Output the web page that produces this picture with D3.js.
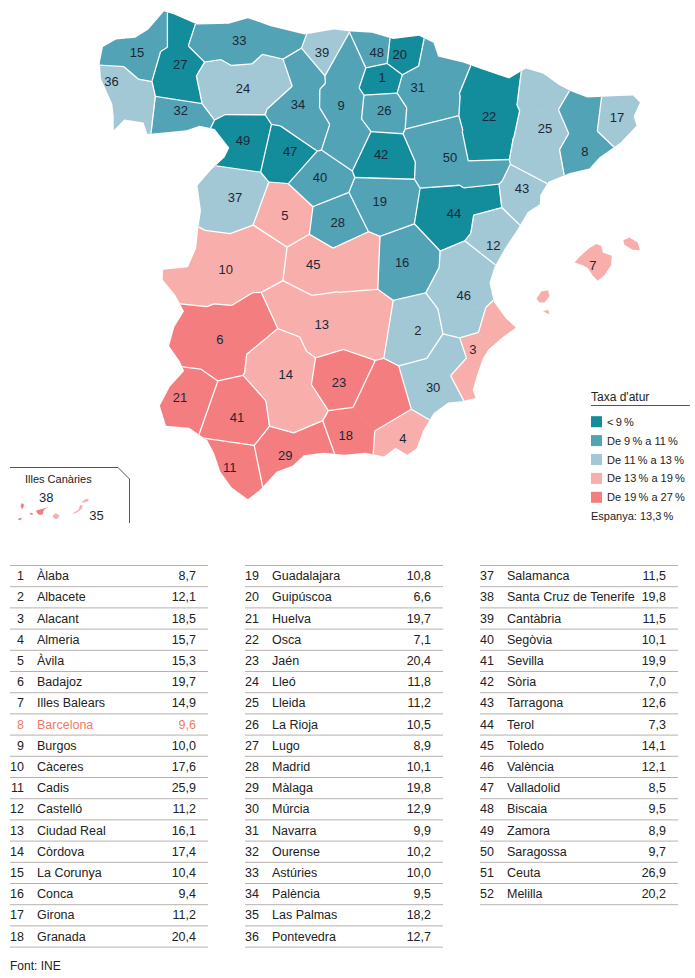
<!DOCTYPE html>
<html>
<head>
<meta charset="utf-8">
<script src="https://cdn.jsdelivr.net/npm/d3@7"></script>
<style>
  body { margin: 0; background: #fff; }
  svg text { font-family: "Liberation Sans", Arial, sans-serif; }
</style>
</head>
<body>
<svg id="chart" width="695" height="978"></svg>
<script>
// Table data, index = province number - 1
const provNames = ["Àlaba","Albacete","Alacant","Almeria","Àvila","Badajoz","Illes Balears","Barcelona","Burgos","Càceres","Cadis","Castelló","Ciudad Real","Còrdova","La Corunya","Conca","Girona","Granada","Guadalajara","Guipúscoa","Huelva","Osca","Jaén","Lleó","Lleida","La Rioja","Lugo","Madrid","Màlaga","Múrcia","Navarra","Ourense","Astúries","Palència","Las Palmas","Pontevedra","Salamanca","Santa Cruz de Tenerife","Cantàbria","Segòvia","Sevilla","Sòria","Tarragona","Terol","Toledo","València","Valladolid","Biscaia","Zamora","Saragossa","Ceuta","Melilla"];
const provRates = [8.7,12.1,18.5,15.7,15.3,19.7,14.9,9.6,10.0,17.6,25.9,11.2,16.1,17.4,10.4,9.4,11.2,20.4,10.8,6.6,19.7,7.1,20.4,11.8,11.2,10.5,8.9,10.1,19.8,12.9,9.9,10.2,10.0,9.5,18.2,12.7,11.5,19.8,11.5,10.1,19.9,7.0,12.6,7.3,14.1,12.1,8.5,9.5,8.9,9.7,26.9,20.2];
const highlightId = 8;
const spainRate = 13.3;

// Legend classes
const classBreaks = [9, 11, 13, 19];
const classColors = ["#138c9c", "#51a3b5", "#a3c8d5", "#f8afac", "#f47d80"];
const legendLabels = ["<\u20099\u2009%", "De 9\u2009% a 11\u2009%", "De 11\u2009% a 13\u2009%", "De 13\u2009% a 19\u2009%", "De 19\u2009% a 27\u2009%"];

// Province label points [id, lon, lat]
const labelPoints = [
  [1,-2.67,42.71],[2,-1.93,38.70],[3,-0.73,38.39],[4,-2.29,36.97],[5,-4.90,40.52],
  [6,-6.29,38.55],[8,1.97,41.54],[9,-3.63,42.27],[10,-6.20,39.66],[11,-6.00,36.52],
  [12,-0.21,40.04],[13,-4.05,38.79],[14,-4.83,38.00],[15,-8.44,43.12],[16,-2.26,39.77],
  [17,2.76,42.08],[18,-3.52,37.03],[19,-2.75,40.74],[20,-2.25,43.08],[21,-7.12,37.63],
  [22,-0.20,42.09],[23,-3.67,37.87],[24,-5.92,42.54],[25,1.08,41.90],[26,-2.63,42.20],
  [27,-7.41,42.92],[28,-3.70,40.41],[29,-4.82,36.70],[30,-1.62,37.79],[31,-1.84,42.55],
  [32,-7.35,42.20],[33,-6.04,43.30],[34,-4.63,42.28],[36,-9.00,42.65],[37,-6.04,40.81],
  [39,-4.08,43.12],[40,-4.11,41.12],[41,-5.87,37.31],[42,-2.71,41.49],[43,0.49,40.96],
  [44,-1.07,40.55],[45,-4.25,39.74],[46,-0.90,39.25],[47,-4.80,41.54],[48,-2.79,43.12],
  [49,-5.89,41.71],[50,-1.13,41.44]
];
// Extra shape points per province [id, lon, lat]
const shapePoints = [
  [27,-7.50,43.50],[27,-7.30,42.50],[22,-0.05,42.60],[22,-0.35,41.55],[25,1.10,42.50],[25,0.85,41.40],
  [31,-1.30,42.95],[31,-1.60,42.15],[50,-1.50,41.85],[50,-0.35,41.25],[44,-0.30,40.75],
  [6,-5.40,38.75],[6,-7.00,38.60],[10,-5.50,39.85],[10,-6.90,39.60],[45,-3.30,39.80],
  [13,-3.20,38.85],[13,-4.80,38.95],[30,-1.10,38.30],[18,-2.75,37.55],[29,-4.20,36.85],
  [24,-6.60,42.60],[24,-5.20,42.70],[33,-6.80,43.35],[33,-5.00,43.35],[9,-3.50,42.90],[9,-3.50,41.75],
  [34,-4.55,42.85],[34,-4.40,41.95],[8,1.95,42.15],[43,0.30,40.80],[12,-0.20,40.45],
  [46,-0.60,39.70],[46,-0.90,38.85],[3,-0.20,38.70],[3,-0.80,38.10],
  [14,-5.05,38.45],[14,-4.55,37.45],
  [15,-9.00,43.15],[15,-8.00,43.50],[36,-8.60,42.30]
];

// Mainland outline [lon, lat]
const spainOutline = [
  [-9.30,42.95],[-9.25,43.20],[-8.95,43.32],[-8.50,43.35],[-8.20,43.48],[-7.85,43.77],[-7.60,43.72],
  [-7.05,43.56],[-6.30,43.57],[-5.85,43.66],[-5.30,43.53],[-4.50,43.40],[-3.80,43.48],[-3.40,43.45],
  [-2.90,43.43],[-2.40,43.33],[-1.79,43.38],[-1.45,43.27],[-1.35,43.05],[-0.75,42.95],[-0.30,42.84],
  [0.30,42.70],[0.70,42.86],[1.10,42.78],[1.45,42.60],[1.73,42.50],[2.10,42.40],[2.70,42.42],
  [3.17,42.43],[3.32,42.32],[3.15,42.10],[3.20,41.95],[2.80,41.68],[2.30,41.45],[2.05,41.27],
  [1.60,41.20],[1.10,41.06],[0.90,40.85],[0.88,40.70],[0.60,40.58],[0.35,40.30],[0.05,40.00],
  [-0.20,39.70],[-0.32,39.45],[-0.24,39.15],[0.00,38.90],[0.23,38.74],[-0.05,38.60],[-0.38,38.40],
  [-0.52,38.25],[-0.65,38.00],[-0.76,37.75],[-0.70,37.62],[-1.00,37.57],[-1.30,37.55],[-1.62,37.38],
  [-1.85,37.10],[-2.00,36.82],[-2.20,36.72],[-2.45,36.83],[-2.70,36.69],[-3.10,36.75],[-3.55,36.72],
  [-4.00,36.75],[-4.42,36.71],[-4.65,36.55],[-5.00,36.45],[-5.35,36.16],[-5.60,36.01],[-5.95,36.20],
  [-6.20,36.45],[-6.35,36.75],[-6.50,36.95],[-6.90,37.15],[-7.40,37.18],[-7.55,37.50],[-7.35,37.80],
  [-7.05,38.05],[-7.15,38.20],[-7.40,38.45],[-7.30,38.75],[-7.10,39.00],[-7.30,39.25],[-7.60,39.50],
  [-7.60,39.66],[-7.05,39.70],[-6.88,40.00],[-6.85,40.30],[-6.80,40.60],[-6.90,41.00],[-6.60,41.25],
  [-6.30,41.45],[-6.20,41.60],[-6.55,41.90],[-6.90,41.95],[-7.20,41.88],[-7.60,41.85],[-8.10,41.82],
  [-8.20,42.00],[-8.65,42.05],[-8.88,41.88],[-8.90,42.10],[-8.95,42.30],[-9.10,42.50],[-9.25,42.70]
];

// Balearic islands [lon, lat]
const balearIslands = [
  [[2.35,39.60],[2.60,39.55],[2.75,39.50],[2.90,39.36],[3.05,39.27],[3.25,39.37],[3.45,39.55],[3.47,39.72],[3.20,39.78],[3.15,39.90],[3.00,39.93],[2.78,39.85],[2.50,39.70]],
  [[3.82,40.00],[3.85,39.92],[4.10,39.83],[4.32,39.82],[4.25,39.96],[4.00,40.05]],
  [[1.20,38.95],[1.30,38.88],[1.45,38.88],[1.60,39.00],[1.55,39.10],[1.35,39.08]],
  [[1.40,38.72],[1.60,38.67],[1.55,38.75]]
];
const balearLabel = [7, 2.9, 39.55];

// Canary islands [province id, ring]
const canaryIslands = [
  [38, [[-17.88,28.85],[-17.75,28.80],[-17.75,28.60],[-17.85,28.45],[-17.97,28.65]]],
  [38, [[-18.15,27.75],[-17.90,27.85],[-17.90,27.70],[-18.05,27.65]]],
  [38, [[-17.30,28.20],[-17.10,28.12],[-17.20,28.02],[-17.35,28.10]]],
  [38, [[-16.90,28.35],[-16.15,28.58],[-16.40,28.40],[-16.50,28.05],[-16.75,28.05],[-16.92,28.25]]],
  [35, [[-15.80,28.00],[-15.60,28.15],[-15.38,28.00],[-15.45,27.80],[-15.60,27.74],[-15.80,27.85]]],
  [35, [[-14.45,28.10],[-14.20,28.20],[-13.85,28.50],[-13.85,28.75],[-14.00,28.70],[-14.10,28.40],[-14.40,28.20],[-14.50,28.05]]],
  [35, [[-13.85,28.90],[-13.45,29.00],[-13.42,29.20],[-13.60,29.15],[-13.85,29.00]]]
];
const canaryLabels = [[38, -16.25, 29.3], [35, -12.9, 28.0]];

const svg = d3.select("#chart");
const rate = (id) => provRates[id - 1];
const color = d3.scaleThreshold().domain(classBreaks).range(classColors);
const fmt = (v) => d3.format(".1f")(v).replace(".", ",");

// sinusoidal-style projection around -3.5°, then fitted with linear scales
const lon0 = -3.5;
const sinu = (d) => (d[0] - lon0) * Math.cos((d[1] * Math.PI) / 180);
const xs = d3.scaleLinear().domain([-4.242, 5.043]).range([100, 640]);
const ys = d3.scaleLinear().domain([43.79, 36.0]).range([10, 500]);
const proj = (d) => [xs(sinu(d)), ys(d[1])];

const bx = d3.scaleLinear().domain([1.4, 4.05]).range([543, 631]);
const by = d3.scaleLinear().domain([38.98, 39.95]).range([297, 243]);
const cx = d3.scaleLinear().domain([-18.2, -13.4]).range([17, 89]);
const cy = d3.scaleLinear().domain([29.3, 27.6]).range([497, 521]);

const ring = d3.line().curve(d3.curveLinearClosed);
const mainPath = (pts) => ring(pts.map(proj));
const insetPath = (sx, sy) => (pts) => ring(pts.map((d) => [sx(d[0]), sy(d[1])]));

// Mainland map
svg.append("clipPath").attr("id", "spain")
  .append("path").attr("d", mainPath(spainOutline));

const seeds = labelPoints.concat(shapePoints).map((d) => {
  const p = proj([d[1], d[2]]);
  return { id: d[0], px: p[0], py: p[1] };
});
const delaunay = d3.Delaunay.from(seeds, (d) => d.px, (d) => d.py);
const voronoi = delaunay.voronoi([40, -30, 700, 560]);

const map = svg.append("g").attr("clip-path", "url(#spain)");
map.selectAll("path.cell")
  .data(seeds)
  .enter()
  .append("path")
  .attr("class", "cell")
  .attr("d", (d, i) => voronoi.renderCell(i))
  .attr("fill", (d) => color(rate(d.id)))
  .attr("stroke", (d) => color(rate(d.id)))
  .attr("stroke-width", 0.8);

// borders only between different provinces
const cells = seeds.map((d, i) => voronoi.cellPolygon(i));
const key = (p) => p[0].toFixed(3) + "," + p[1].toFixed(3);
const borders = [];
seeds.forEach((s, i) => {
  for (const j of voronoi.neighbors(i)) {
    if (j <= i || seeds[j].id === s.id) continue;
    const setJ = new Set(cells[j].map(key));
    const shared = cells[i].slice(0, -1).filter((p) => setJ.has(key(p)));
    if (shared.length >= 2) borders.push(shared.slice(0, 2));
  }
});
map.selectAll("line.border")
  .data(borders)
  .enter()
  .append("line")
  .attr("class", "border")
  .attr("x1", (d) => d[0][0]).attr("y1", (d) => d[0][1])
  .attr("x2", (d) => d[1][0]).attr("y2", (d) => d[1][1])
  .attr("stroke", "#fff")
  .attr("stroke-width", 1.3);

// Balearics
svg.selectAll("path.balear")
  .data(balearIslands)
  .enter()
  .append("path")
  .attr("class", "balear")
  .attr("d", insetPath(bx, by))
  .attr("fill", color(rate(7)));

// labels
const labelStyle = (sel) => sel
  .attr("text-anchor", "middle")
  .attr("dominant-baseline", "central")
  .attr("fill", "#1b2738")
  .style("font-size", "13px");

svg.selectAll("text.plabel")
  .data(labelPoints)
  .enter()
  .append("text")
  .attr("class", "plabel")
  .attr("x", (d) => proj([d[1], d[2]])[0])
  .attr("y", (d) => proj([d[1], d[2]])[1])
  .text((d) => d[0])
  .call(labelStyle);

svg.append("text")
  .attr("x", bx(balearLabel[1])).attr("y", by(balearLabel[2]))
  .text(balearLabel[0])
  .call(labelStyle);

// Canaries inset
svg.append("path")
  .attr("d", "M10,467.5H118L129.5,479V523")
  .attr("fill", "none")
  .attr("stroke", "#555")
  .attr("stroke-width", 1);
svg.append("text")
  .attr("x", 25).attr("y", 479)
  .attr("dominant-baseline", "central")
  .attr("fill", "#222")
  .style("font-size", "11px")
  .text("Illes Canàries");
svg.selectAll("path.canary")
  .data(canaryIslands)
  .enter()
  .append("path")
  .attr("class", "canary")
  .attr("d", (d) => insetPath(cx, cy)(d[1]))
  .attr("fill", (d) => color(rate(d[0])));
svg.selectAll("text.clabel")
  .data(canaryLabels)
  .enter()
  .append("text")
  .attr("class", "clabel")
  .attr("x", (d) => cx(d[1]))
  .attr("y", (d) => cy(d[2]))
  .text((d) => d[0])
  .call(labelStyle);

// Legend
const legend = svg.append("g").attr("transform", "translate(591,0)");
legend.append("text")
  .attr("x", 0).attr("y", 397)
  .attr("dominant-baseline", "central")
  .attr("fill", "#222")
  .style("font-size", "12px")
  .text("Taxa d'atur");
legend.append("line")
  .attr("x1", 0).attr("x2", 99)
  .attr("y1", 405.5).attr("y2", 405.5)
  .attr("stroke", "#555");
const legendRow = legend.selectAll("g.row")
  .data(legendLabels)
  .enter()
  .append("g")
  .attr("class", "row")
  .attr("transform", (d, i) => `translate(0,${421.7 + i * 18.9})`);
legendRow.append("rect")
  .attr("x", 0).attr("y", -5.5)
  .attr("width", 11).attr("height", 11)
  .attr("fill", (d, i) => classColors[i]);
legendRow.append("text")
  .attr("x", 16)
  .attr("dominant-baseline", "central")
  .attr("fill", "#222")
  .style("font-size", "11px")
  .text((d) => d);
legend.append("text")
  .attr("x", 0).attr("y", 516)
  .attr("dominant-baseline", "central")
  .attr("fill", "#222")
  .style("font-size", "11px")
  .text("Espanya: " + fmt(spainRate) + "\u2009%");

// Table
const colX = [10, 245, 480];
const rowsPerCol = 18;
const rowH = 21.2;
const tableTop = 565.5;
const rows = provNames.map((name, i) => ({ id: i + 1, name, value: provRates[i], col: Math.floor(i / rowsPerCol), row: i % rowsPerCol }));

colX.forEach((cx0, c) => {
  const n = rows.filter((r) => r.col === c).length;
  svg.selectAll(null)
    .data(d3.range(n + 1))
    .enter()
    .append("line")
    .attr("x1", cx0).attr("x2", cx0 + 198)
    .attr("y1", (k) => tableTop + k * rowH).attr("y2", (k) => tableTop + k * rowH)
    .attr("stroke", "#b8b0b0")
    .attr("stroke-width", 1);
});

const tr = svg.selectAll("g.tr")
  .data(rows)
  .enter()
  .append("g")
  .attr("class", "tr")
  .attr("transform", (d) => `translate(${colX[d.col]},${tableTop + (d.row + 0.5) * rowH})`)
  .attr("fill", (d) => (d.id === highlightId ? "#ef7a6c" : "#222"))
  .style("font-size", "12.5px");
tr.append("text")
  .attr("x", 14).attr("text-anchor", "end").attr("dominant-baseline", "central")
  .text((d) => d.id);
tr.append("text")
  .attr("x", 27).attr("dominant-baseline", "central")
  .text((d) => d.name);
tr.append("text")
  .attr("x", 186).attr("text-anchor", "end").attr("dominant-baseline", "central")
  .text((d) => fmt(d.value));

svg.append("text")
  .attr("x", 10).attr("y", 966)
  .attr("dominant-baseline", "central")
  .attr("fill", "#222")
  .style("font-size", "12px")
  .text("Font: INE");
</script>
</body>
</html>
